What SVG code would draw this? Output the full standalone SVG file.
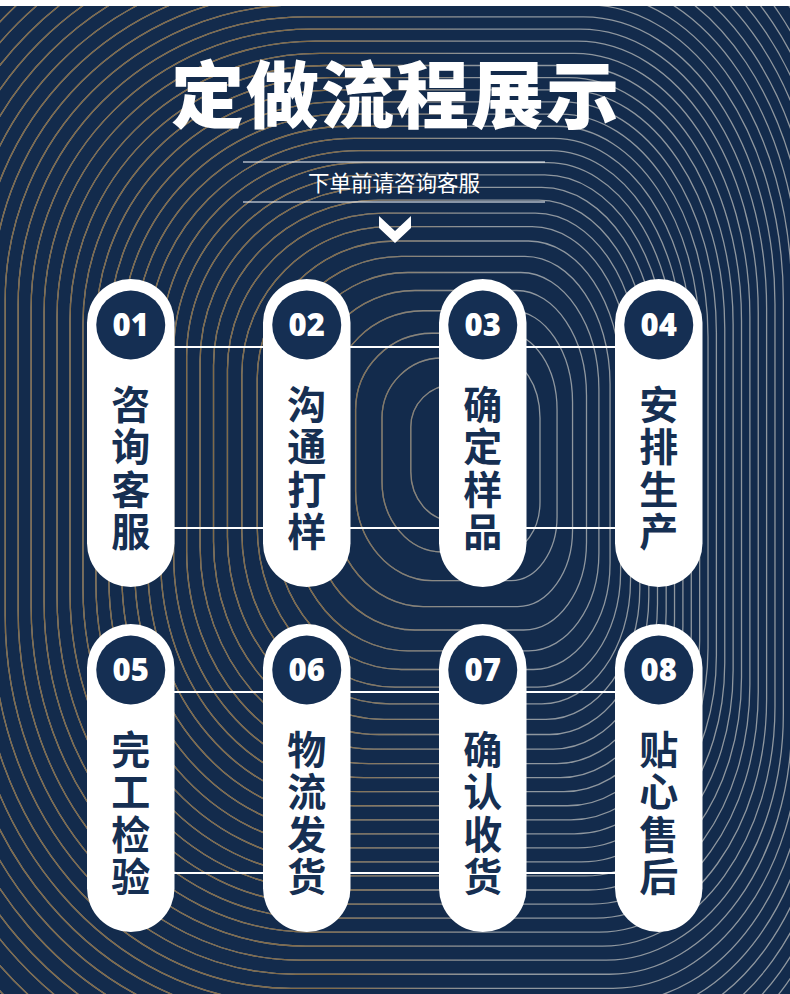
<svg xmlns="http://www.w3.org/2000/svg" xmlns:xlink="http://www.w3.org/1999/xlink" width="790" height="994" viewBox="0 0 790 994">
  <style>
    .bg { fill: #132b4c; }
    .contour { fill: none; vector-effect: non-scaling-stroke; stroke-width: 1.3; }
    .pill { fill: #ffffff; }
    .badge { fill: #152f53; }
    .num { font-family: "Open Sans", "Liberation Sans", sans-serif; font-weight: 800; font-size: 31px; fill: #ffffff; text-anchor: middle; }
    .label { font-family: "Noto Sans CJK SC", "Noto Sans", sans-serif; font-weight: 700; font-size: 39px; fill: #162f52; text-anchor: middle; }
    .title { font-family: "Noto Sans CJK SC", sans-serif; font-weight: 900; font-size: 73px; fill: #ffffff; text-anchor: middle; letter-spacing: 2px; }
    .subtitle { font-family: "Noto Sans CJK SC", sans-serif; font-weight: 400; font-size: 21.5px; fill: #ffffff; text-anchor: middle; }
    .rule { stroke: #ffffff; stroke-width: 1.2; }
    .connector { stroke: #ffffff; stroke-width: 2; }
  </style>
  <defs>
    <path id="c" class="contour" d="M -480,-150 C -480,-315 -345,-450 -180,-450 L 110,-450 C 220,-450 310,-315 310,-150 L 310,270 C 310,407.5 229,520 130,520 L -180,520 C -345,520 -480,362.5 -480,170 Z"/>
    <g id="contours">
      <use href="#c" transform="translate(478 448) scale(0.14)"/>
      <use href="#c" transform="translate(478 448) scale(0.2)"/>
      <use href="#c" transform="translate(478 448) scale(0.255)"/>
      <use href="#c" transform="translate(478 448) scale(0.305)"/>
      <use href="#c" transform="translate(478 448) scale(0.35)"/>
      <use href="#c" transform="translate(478 448) scale(0.39)"/>
      <use href="#c" transform="translate(478 448) scale(0.426)"/>
      <use href="#c" transform="translate(478 448) scale(0.46)"/>
      <use href="#c" transform="translate(478 448) scale(0.492)"/>
      <use href="#c" transform="translate(478 448) scale(0.522)"/>
      <use href="#c" transform="translate(478 448) scale(0.551)"/>
      <use href="#c" transform="translate(478 448) scale(0.579)"/>
      <use href="#c" transform="translate(478 448) scale(0.607)"/>
      <use href="#c" transform="translate(478 448) scale(0.634)"/>
      <use href="#c" transform="translate(478 448) scale(0.661)"/>
      <use href="#c" transform="translate(478 448) scale(0.688)"/>
      <use href="#c" transform="translate(478 448) scale(0.715)"/>
      <use href="#c" transform="translate(478 448) scale(0.742)"/>
      <use href="#c" transform="translate(478 448) scale(0.769)"/>
      <use href="#c" transform="translate(478 448) scale(0.796)"/>
      <use href="#c" transform="translate(478 448) scale(0.823)"/>
      <use href="#c" transform="translate(478 448) scale(0.85)"/>
      <use href="#c" transform="translate(478 448) scale(0.877)"/>
      <use href="#c" transform="translate(478 448) scale(0.904)"/>
      <use href="#c" transform="translate(478 448) scale(0.931)"/>
      <use href="#c" transform="translate(478 448) scale(0.958)"/>
      <use href="#c" transform="translate(478 448) scale(0.985)"/>
      <use href="#c" transform="translate(478 448) scale(1.012)"/>
      <use href="#c" transform="translate(478 448) scale(1.039)"/>
      <use href="#c" transform="translate(478 448) scale(1.066)"/>
      <use href="#c" transform="translate(478 448) scale(1.093)"/>
      <use href="#c" transform="translate(478 448) scale(1.12)"/>
      <use href="#c" transform="translate(478 448) scale(1.147)"/>
      <use href="#c" transform="translate(478 448) scale(1.174)"/>
      <use href="#c" transform="translate(478 448) scale(1.2)"/>
      <use href="#c" transform="translate(478 448) scale(1.23)"/>
      <use href="#c" transform="translate(478 448) scale(1.26)"/>
      <use href="#c" transform="translate(478 448) scale(1.29)"/>
      <use href="#c" transform="translate(478 448) scale(1.32)"/>
    </g>
    <linearGradient id="fade" gradientUnits="userSpaceOnUse" x1="330" y1="0" x2="480" y2="0">
      <stop offset="0" stop-color="#ffffff"/>
      <stop offset="1" stop-color="#000000"/>
    </linearGradient>
    <mask id="leftMask" maskUnits="userSpaceOnUse" x="0" y="0" width="790" height="994">
      <rect x="0" y="0" width="790" height="994" fill="url(#fade)"/>
    </mask>
    <clipPath id="bgClip">
      <rect x="0" y="6" width="790" height="988"/>
    </clipPath>
  </defs>

  <rect x="0" y="0" width="790" height="994" fill="#ffffff"/>
  <rect class="bg" x="0" y="6" width="790" height="988"/>

  <g id="background-lines" clip-path="url(#bgClip)">
    <use href="#contours" stroke="#8f979f"/>
    <use href="#contours" stroke="#806a48" mask="url(#leftMask)"/>
  </g>

  <g id="header">
    <text class="title" x="396" y="122">定做流程展示</text>
    <line class="rule" x1="243" y1="162" x2="545" y2="162"/>
    <text class="subtitle" x="394" y="191">下单前请咨询客服</text>
    <line class="rule" x1="243" y1="202" x2="545" y2="202"/>
    <polygon points="379,216 395,231 411,216 411,228 395,243 379,228" fill="#ffffff"/>
  </g>

  <g id="connectors">
    <line class="connector" x1="130" y1="347" x2="659" y2="347"/>
    <line class="connector" x1="130" y1="528" x2="659" y2="528"/>
    <line class="connector" x1="130" y1="692" x2="659" y2="692"/>
    <line class="connector" x1="130" y1="873" x2="659" y2="873"/>
  </g>

  <g id="step-01">
    <rect class="pill" x="87" y="279" width="87.5" height="308" rx="43.75"/>
    <circle class="badge" cx="130.75" cy="325" r="34.5"/>
    <text class="num" x="130.75" y="336">01</text>
    <text class="label" x="130.75" y="419">咨</text>
    <text class="label" x="130.75" y="461">询</text>
    <text class="label" x="130.75" y="504">客</text>
    <text class="label" x="130.75" y="546">服</text>
  </g>
  <g id="step-02">
    <rect class="pill" x="263" y="279" width="87.5" height="308" rx="43.75"/>
    <circle class="badge" cx="306.75" cy="325" r="34.5"/>
    <text class="num" x="306.75" y="336">02</text>
    <text class="label" x="306.75" y="419">沟</text>
    <text class="label" x="306.75" y="461">通</text>
    <text class="label" x="306.75" y="504">打</text>
    <text class="label" x="306.75" y="546">样</text>
  </g>
  <g id="step-03">
    <rect class="pill" x="439" y="279" width="87.5" height="308" rx="43.75"/>
    <circle class="badge" cx="482.75" cy="325" r="34.5"/>
    <text class="num" x="482.75" y="336">03</text>
    <text class="label" x="482.75" y="419">确</text>
    <text class="label" x="482.75" y="461">定</text>
    <text class="label" x="482.75" y="504">样</text>
    <text class="label" x="482.75" y="546">品</text>
  </g>
  <g id="step-04">
    <rect class="pill" x="615" y="279" width="87.5" height="308" rx="43.75"/>
    <circle class="badge" cx="658.75" cy="325" r="34.5"/>
    <text class="num" x="658.75" y="336">04</text>
    <text class="label" x="658.75" y="419">安</text>
    <text class="label" x="658.75" y="461">排</text>
    <text class="label" x="658.75" y="504">生</text>
    <text class="label" x="658.75" y="546">产</text>
  </g>
  <g id="step-05">
    <rect class="pill" x="87" y="624" width="87.5" height="308" rx="43.75"/>
    <circle class="badge" cx="130.75" cy="670" r="34.5"/>
    <text class="num" x="130.75" y="681">05</text>
    <text class="label" x="130.75" y="764">完</text>
    <text class="label" x="130.75" y="806">工</text>
    <text class="label" x="130.75" y="849">检</text>
    <text class="label" x="130.75" y="891">验</text>
  </g>
  <g id="step-06">
    <rect class="pill" x="263" y="624" width="87.5" height="308" rx="43.75"/>
    <circle class="badge" cx="306.75" cy="670" r="34.5"/>
    <text class="num" x="306.75" y="681">06</text>
    <text class="label" x="306.75" y="764">物</text>
    <text class="label" x="306.75" y="806">流</text>
    <text class="label" x="306.75" y="849">发</text>
    <text class="label" x="306.75" y="891">货</text>
  </g>
  <g id="step-07">
    <rect class="pill" x="439" y="624" width="87.5" height="308" rx="43.75"/>
    <circle class="badge" cx="482.75" cy="670" r="34.5"/>
    <text class="num" x="482.75" y="681">07</text>
    <text class="label" x="482.75" y="764">确</text>
    <text class="label" x="482.75" y="806">认</text>
    <text class="label" x="482.75" y="849">收</text>
    <text class="label" x="482.75" y="891">货</text>
  </g>
  <g id="step-08">
    <rect class="pill" x="615" y="624" width="87.5" height="308" rx="43.75"/>
    <circle class="badge" cx="658.75" cy="670" r="34.5"/>
    <text class="num" x="658.75" y="681">08</text>
    <text class="label" x="658.75" y="764">贴</text>
    <text class="label" x="658.75" y="806">心</text>
    <text class="label" x="658.75" y="849">售</text>
    <text class="label" x="658.75" y="891">后</text>
  </g>
</svg>
